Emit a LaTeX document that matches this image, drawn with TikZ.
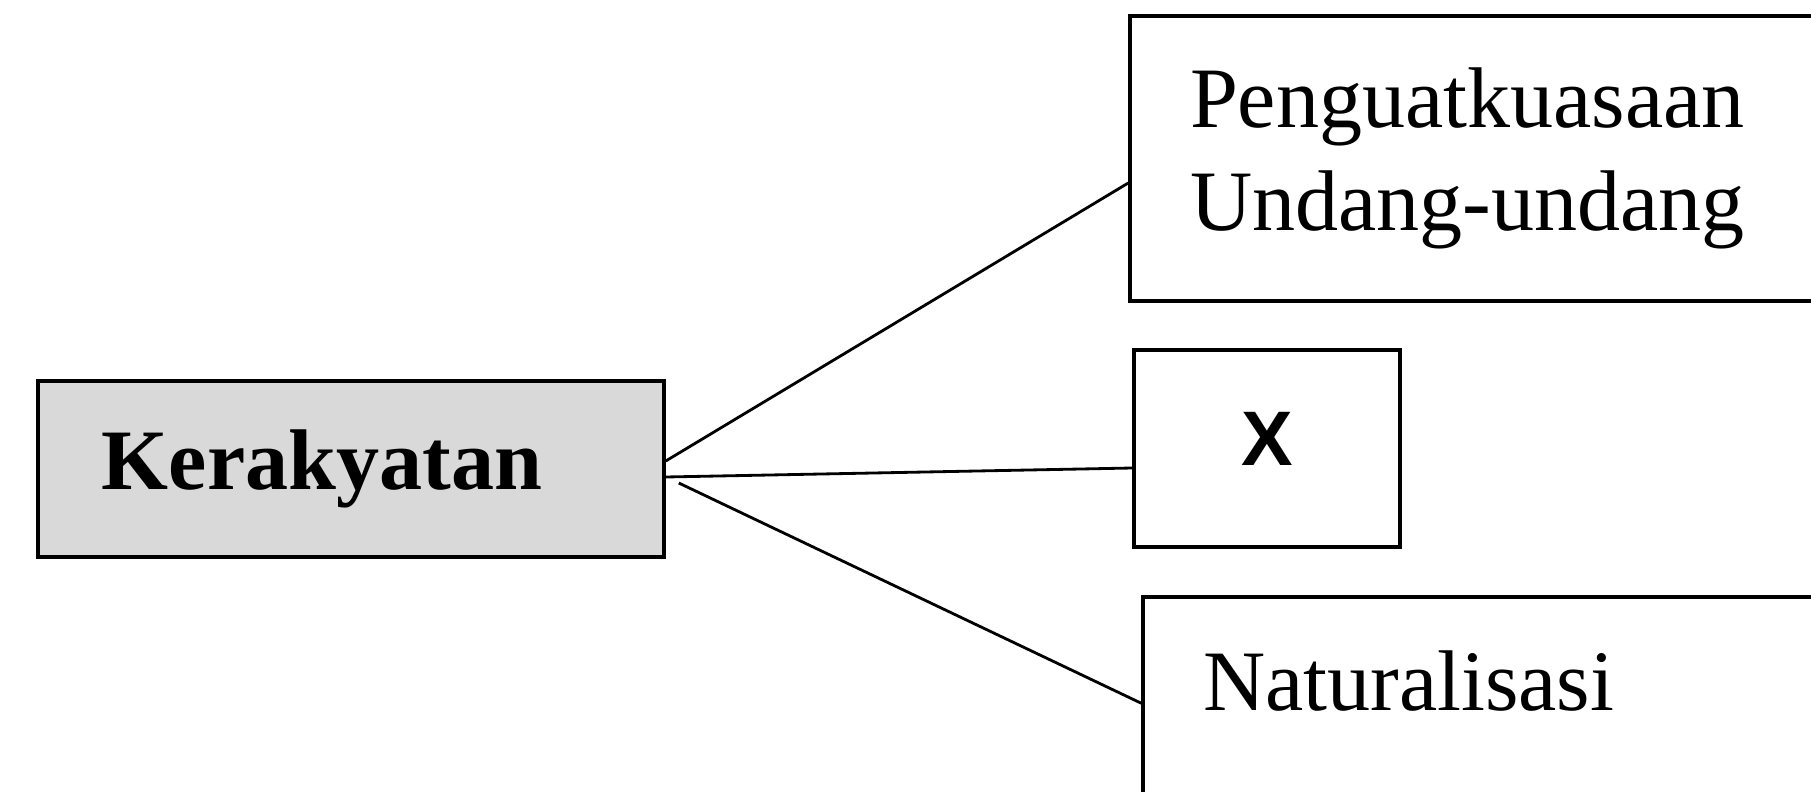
\documentclass[tikz,border=0pt]{standalone}
\usepackage{fontspec}
\setmainfont{Liberation Serif}
\newfontfamily\xfont{Liberation Sans}
\usetikzlibrary{positioning}
\tikzset{
	topic/.style={draw, rectangle, line width=1pt, fill=black!15, inner xsep=0.64cm, text width=4.98cm, minimum height=1.76cm, font=\bfseries\fontsize{24.5}{29.3}\selectfont},
	branch/.style={draw, rectangle, line width=1pt, fill=white, inner xsep=0.6cm, text width=6cm, align=left, font=\fontsize{24.5}{29.3}\selectfont},
	xbranch/.style={draw, rectangle, line width=1pt, fill=white, minimum width=2.66cm, minimum height=1.97cm, text height=0.57cm, text depth=0.24cm, font=\xfont\bfseries\fontsize{22}{26}\selectfont},
}

\begin{document}
\begin{tikzpicture}
		
		\useasboundingbox (-3.51,4.69) rectangle (14.60,-3.22);
		\clip (-3.51,4.69) rectangle (14.60,-3.22);
		
		\node (kerakyatan) [topic] {Kerakyatan};
		
		\node (undang) [branch, right of=kerakyatan, minimum height=2.85cm, xshift=10.39cm, yshift=3.105cm] {Penguatkuasaan\\Undang-undang};
		
		\node (x) [xbranch, right of=kerakyatan, xshift=8.16cm, yshift=0.205cm] {X};
		
		% box runs past the page edge
		\node (natural) [branch, right of=kerakyatan, inner ysep=0.3cm, text height=0.83cm, text depth=1.5cm, xshift=10.52cm, yshift=-2.745cm] {Naturalisasi};
		
		\begin{scope}[line width=0.8pt, black]
			\draw ([yshift=0.08cm]kerakyatan.east) -- ([yshift=-0.245cm]undang.west);
			\draw ([yshift=-0.08cm]kerakyatan.east) -- ([yshift=-0.195cm]x.west);
			\draw ([xshift=0.13cm, yshift=-0.14cm]kerakyatan.east) -- ([yshift=-1.08cm]natural.north west);
		\end{scope}
	\end{tikzpicture}
\end{document}
